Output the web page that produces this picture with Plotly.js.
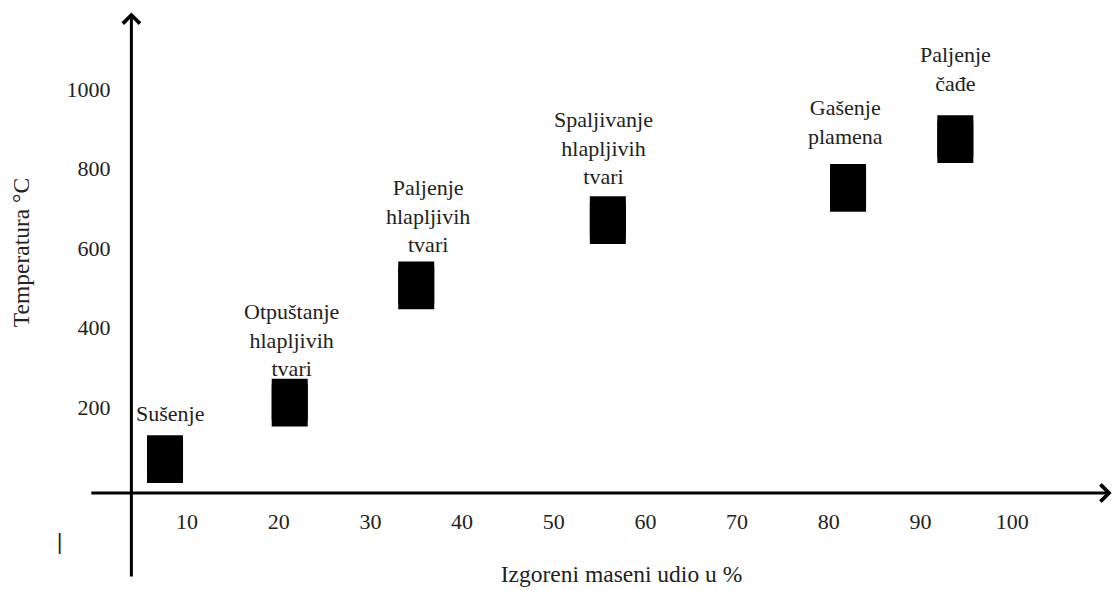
<!DOCTYPE html>
<html>
<head>
<meta charset="utf-8">
<script src="https://cdn.plot.ly/plotly-3.0.1.min.js"></script>
<style>html,body{margin:0;padding:0;background:#fff;}#chart{width:1113px;height:590px;}</style>
</head>
<body>
<div id="chart"></div>
<script>
// Data
const stages = ['Sušenje', 'Otpuštanje<br>hlapljivih<br>tvari', 'Paljenje<br>hlapljivih<br>tvari', 'Spaljivanje<br>hlapljivih<br>tvari', 'Gašenje<br>plamena', 'Paljenje<br>čađe'];
const burnedPct = [7.6, 21.2, 35.0, 55.9, 82.1, 93.8];
const temperature = [69, 211, 506, 670, 751, 874];
const xTickVals = [10, 20, 30, 40, 50, 60, 70, 80, 90, 100];
const xTickText = ['10', '20', '30', '40', '50', '60', '70', '80', '90', '100'];
const yTickVals = [200, 400, 600, 800, 1000];
const yTickText = ['200', '400', '600', '800', '1000'];

// Styling (label offsets in pixels)
const labelXShift = [5, 2, 12, -4.5, -3, 0];
const labelYShift = [46, 63, 69.5, 72, 65.5, 70];
const FONT = '"Liberation Serif", "Times New Roman", Times, serif';
const TXT = '#222';

const xRange = [3.78, 111.0];
const yRange = [-16.4, 1193.7];

const trace = {
  x: burnedPct,
  y: temperature,
  type: 'scatter',
  mode: 'markers',
  marker: {symbol: 'square', size: 36, color: '#000'},
  error_y: {type: 'constant', value: 60, thickness: 36, width: 0, color: '#000'},
  hoverinfo: 'x+y',
  showlegend: false
};

const annotations = stages.map((s, i) => ({
  x: burnedPct[i], y: temperature[i], xref: 'x', yref: 'y',
  text: s, showarrow: false, xanchor: 'center', yanchor: 'middle',
  xshift: labelXShift[i], yshift: labelYShift[i],
  font: {family: FONT, size: 22, color: TXT}
}));

// axis arrows
annotations.push({
  xref: 'x', yref: 'y', axref: 'x', ayref: 'y',
  x: 110.85, y: yRange[0], ax: -0.6, ay: yRange[0],
  text: '', showarrow: true, arrowhead: 4, arrowsize: 1.1, arrowwidth: 3, arrowcolor: '#000'
});
annotations.push({
  xref: 'x', yref: 'y', axref: 'x', ayref: 'y',
  x: xRange[0] + 0.15, y: yRange[1] - 1, ax: xRange[0] + 0.15, ay: -230,
  text: '', showarrow: true, arrowhead: 4, arrowsize: 1.1, arrowwidth: 3, arrowcolor: '#000'
});
// stray cursor mark
annotations.push({
  xref: 'paper', yref: 'paper', x: -0.072, y: -0.1, xanchor: 'center', yanchor: 'middle',
  text: '<b>|</b>', showarrow: false, font: {family: FONT, size: 24, color: '#222'}
});

const layout = {
  width: 1113, height: 590,
  margin: {l: 130, r: 0, t: 12, b: 97},
  paper_bgcolor: '#fff', plot_bgcolor: '#fff',
  showlegend: false,
  xaxis: {
    range: xRange, showgrid: false, zeroline: false, showline: false,
    tickvals: xTickVals, ticktext: xTickText,
    ticks: 'outside', ticklen: 9, tickcolor: 'rgba(0,0,0,0)',
    tickfont: {family: FONT, size: 22, color: TXT},
    title: {text: 'Izgoreni maseni udio u %', font: {family: FONT, size: 23.5, color: TXT}, standoff: 32},
    automargin: false
  },
  yaxis: {
    range: yRange, showgrid: false, zeroline: false, showline: false,
    tickvals: yTickVals, ticktext: yTickText,
    ticks: 'outside', ticklen: 14, tickcolor: 'rgba(0,0,0,0)',
    tickfont: {family: FONT, size: 22, color: TXT},
    title: {text: 'Temperatura °C', font: {family: FONT, size: 23.5, color: TXT}, standoff: 30},
    automargin: false
  },
  annotations: annotations
};

Plotly.newPlot('chart', [trace], layout, {displayModeBar: false, staticPlot: true});
</script>
</body>
</html>
